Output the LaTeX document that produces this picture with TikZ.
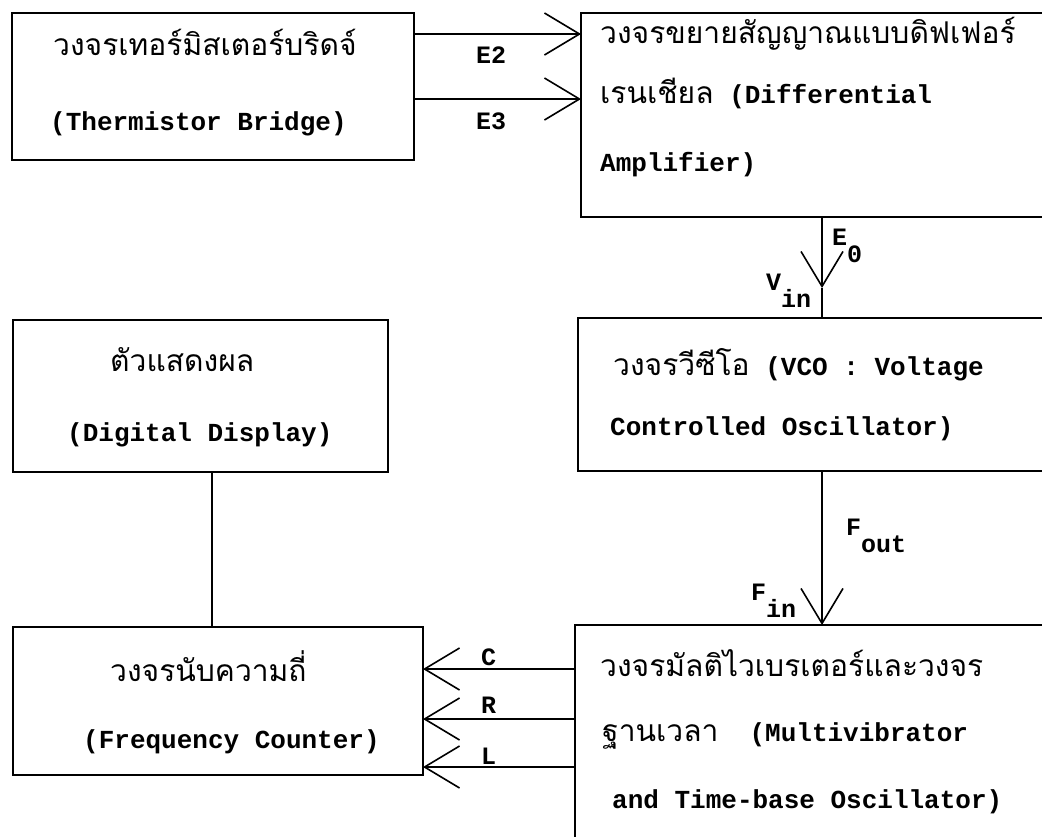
\documentclass[tikz,border=0pt]{standalone}
\usepackage{fontspec}
\setmainfont{Liberation Mono}
\newfontfamily\thaifnt[Script=Thai]{Loma}
\usetikzlibrary{arrows.meta}
\newcommand\thtext[1]{{\fontsize{30}{34}\selectfont\thaifnt\mdseries #1}}
\newcommand\sbx[1]{\raisebox{-17pt}{#1}}
\begin{document}
\begin{tikzpicture}[x=1pt,y=-1pt,
  box/.style={draw, line width=1.6pt, inner sep=0pt, outer sep=0pt, anchor=north west},
  txt/.style={anchor=base west, inner sep=0pt, font=\fontsize{26}{30}\selectfont\bfseries},
  lbl/.style={anchor=base west, inner sep=0pt, font=\fontsize{25}{28}\selectfont\bfseries},
  conn/.style={line width=1.6pt},
  barb/.style={conn, -{Straight Barb[length=35pt,width=42pt,line width=1.6pt]}},
]
\useasboundingbox (0,0) rectangle (1042,836);
\fill[white] (0,0) rectangle (1042,836);

% boxes
\node[box, minimum width=402pt, minimum height=147pt] (b1) at (12,13) {};
\node[box, minimum width=471pt, minimum height=204pt] (b2) at (581,13) {};
\node[box, minimum width=474pt, minimum height=153pt] (b3) at (578,318) {};
\node[box, minimum width=375pt, minimum height=152pt] (b4) at (13,320) {};
\node[box, minimum width=410pt, minimum height=148pt] (b5) at (13,627) {};
\node[box, minimum width=477pt, minimum height=235pt] (b6) at (575,625) {};

% texts
\node[txt] (t11) at (53,55) {\thtext{วงจรเทอร์มิสเตอร์บริดจ์}};
\node[txt] (t12) at (50,130) {(Thermistor Bridge)};
\node[txt] (t21) at (600,43) {\thtext{วงจรขยายสัญญาณแบบดิฟเฟอร์}};
\node[txt] (t22) at (600,103) {\thtext{เรนเชียล} (Differential};
\node[txt] (t23) at (600,171) {Amplifier)};
\node[txt] (t31) at (613,375) {\thtext{วงจรวีซีโอ} (VCO : Voltage};
\node[txt] (t32) at (610,435) {Controlled Oscillator)};
\node[txt] (t41) at (110,371) {\thtext{ตัวแสดงผล}};
\node[txt] (t42) at (67,441) {(Digital Display)};
\node[txt] (t51) at (110,681) {\thtext{วงจรนับความถี่}};
\node[txt] (t52) at (83,748) {(Frequency Counter)};
\node[txt] (t61) at (600,676) {\thtext{วงจรมัลติไวเบรเตอร์และวงจร}};
\node[txt] (t62) at (602,741) {\thtext{ฐานเวลา}\ \ (Multivibrator};
\node[txt] (t63) at (612,808) {and Time-base Oscillator)};

% helper coordinates
\coordinate (yE2) at (0,34);
\coordinate (yE3) at (0,99);
\coordinate (e0tip) at (822,288);
\coordinate (yC) at (0,669);
\coordinate (yR) at (0,719);
\coordinate (yL) at (0,767);
\coordinate (xD) at (212,0);

% connectors
\draw[barb] (b1.east |- yE2) -- (b2.west |- yE2);
\draw[barb] (b1.east |- yE3) -- (b2.west |- yE3);
\draw[barb] (b2.south -| e0tip) -- (e0tip);
\draw[conn] (e0tip) -- (b3.north -| e0tip);
\draw[barb] (b3.south -| e0tip) -- (b6.north -| e0tip);
\draw[barb] (b6.west |- yC) -- (b5.east |- yC);
\draw[barb] (b6.west |- yR) -- (b5.east |- yR);
\draw[barb] (b6.west |- yL) -- (b5.east |- yL);
\draw[conn] (b4.south -| xD) -- (b5.north -| xD);

% connector labels
\node[lbl] (lE2) at (476,63) {E2};
\node[lbl] (lE3) at (476,129) {E3};
\node[lbl] (lE0) at (832,245) {E\sbx{0}};
\node[lbl] (lVin) at (766,290) {V\sbx{in}};
\node[lbl] (lFout) at (846,535) {F\sbx{out}};
\node[lbl] (lFin) at (751,600) {F\sbx{in}};
\node[lbl] (lC) at (481,665) {C};
\node[lbl] (lR) at (481,713) {R};
\node[lbl] (lL) at (481,764) {L};
\end{tikzpicture}
\end{document}
